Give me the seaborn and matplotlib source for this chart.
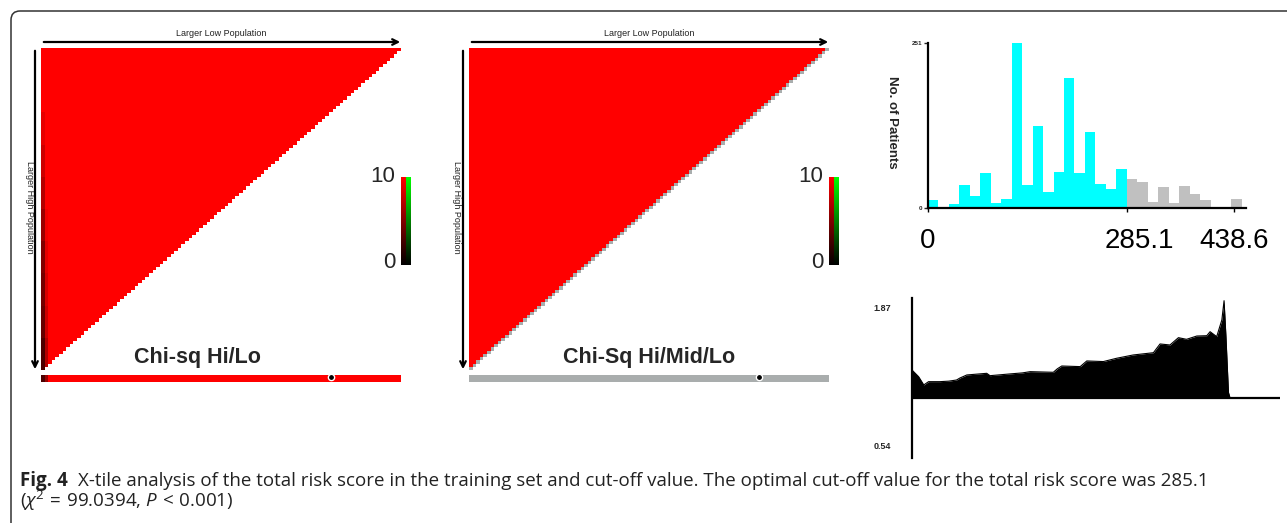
import numpy as np
import pandas as pd
import seaborn as sns
import matplotlib
matplotlib.use("Agg")
from matplotlib import pyplot as plt
from matplotlib.colors import LinearSegmentedColormap, ListedColormap
from matplotlib.patches import FancyBboxPatch, FancyArrowPatch
from matplotlib.transforms import ScaledTranslation

import warnings
warnings.filterwarnings("ignore")

# ---- data ----
n_cells = 100                      # X-tile grid size
chi_sq_cap = 10                    # triangle is saturated (>= 10)
hilo_first_col = [10, 10, 9, 8, 7, 6, 5, 4.5, 4, 3]     # per 10-row block, top -> bottom
hilo_second_col = [10, 10, 10, 10, 10, 9.5, 9, 8.5, 8, 7]
hilo_strip_head = [3, 6]
cut_cell = 80                      # optimal cut-point marker on the strip

bin_width = 285.1 / 19
counts_low = [13, 0, 7, 35, 19, 53, 8, 14, 251, 35, 124, 24, 55, 197, 54, 115, 37, 29, 60]
counts_high = [44, 40, 9, 33, 8, 34, 22, 12, 0, 0, 14]
score_ticks = [0, 285.1, 438.6]
count_ticks = [0, 251]

rr_x = [0, 1.8, 3.2, 4.5, 7.6, 10, 12.1, 13, 14.9, 20.3, 21.2, 26.6, 30, 32.1, 38.4, 39.5,
        40.7, 45.7, 47.5, 52, 55.6, 60.1, 65.6, 67.4, 70.1, 72.4, 74.6, 77.4, 80.1, 81,
        82.8, 84.2, 84.8, 85.3, 86.0, 86.4]
rr_y = [1.268, 1.203, 1.123, 1.155, 1.155, 1.160, 1.171, 1.19, 1.22, 1.236, 1.213, 1.23,
        1.24, 1.252, 1.246, 1.28, 1.307, 1.301, 1.356, 1.35, 1.382, 1.414, 1.436, 1.521,
        1.511, 1.582, 1.566, 1.598, 1.601, 1.64, 1.592, 1.754, 1.941, 1.6, 1.05, 1.0]
rr_ticks = [0.54, 1.87]

# ---- styling ----
sns.set_style("white")
sans = ['Liberation Sans', 'DejaVu Sans']
plt.rcParams['font.family'] = sans
plt.rcParams['mathtext.fontset'] = 'custom'
plt.rcParams['mathtext.rm'] = 'Open Sans'
plt.rcParams['mathtext.it'] = 'Open Sans:italic'

W, H = 1287, 523
fig = plt.figure(figsize=(W / 100, H / 100), dpi=100)


def px_axes(x0, y0, x1, y1):
    return fig.add_axes([x0 / W, 1 - y1 / H, (x1 - x0) / W, (y1 - y0) / H])


def px_text(x, y, s, **kw):
    return fig.text(x / W, 1 - y / H, s, **kw)


red_cmap = LinearSegmentedColormap.from_list('kr', ['#000000', '#ff0000'])
green_cmap = LinearSegmentedColormap.from_list('kg', ['#000000', '#00ff00'])
gray_cmap = ListedColormap(['#a9adad'])

rows, cols = np.indices((n_cells, n_cells))

# ---- Hi/Lo triangle ----
hilo = np.full((n_cells, n_cells), float(chi_sq_cap))
hilo[:, 0] = np.repeat(hilo_first_col, n_cells // len(hilo_first_col))
hilo[:, 1] = np.repeat(hilo_second_col, n_cells // len(hilo_second_col))

hilo_strip = np.full((1, n_cells), float(chi_sq_cap))
hilo_strip[0, :len(hilo_strip_head)] = hilo_strip_head

mid_strip = np.zeros((1, n_cells))
mid = np.full((n_cells, n_cells), float(chi_sq_cap))


def draw_panel(x0, title, title_dx, tri, tri_mask, strip, strip_cmap, diag=None):
    ax = px_axes(x0, 48, x0 + 360, 370)
    sns.heatmap(tri, mask=tri_mask, cmap=red_cmap, vmin=0, vmax=10, cbar=False,
                xticklabels=False, yticklabels=False, ax=ax)
    if diag is not None:
        sns.heatmap(np.zeros_like(tri), mask=~diag, cmap=gray_cmap, cbar=False,
                    xticklabels=False, yticklabels=False, ax=ax)
    ax.set_xlim(0, n_cells)
    ax.set_ylim(n_cells, 0)

    sax = px_axes(x0, 375, x0 + 360, 382)
    sns.heatmap(strip, cmap=strip_cmap, vmin=0, vmax=10, cbar=False,
                xticklabels=False, yticklabels=False, ax=sax)
    sax.plot(cut_cell + 0.5, 0.25, 'o', ms=4.5, mfc='black', mec='white', mew=1.0,
             clip_on=False, zorder=5)

    # colour key
    cax = px_axes(x0 + 360, 177, x0 + 369, 265)
    grad = np.linspace(0, 10, 256)[:, None]
    cax.imshow(grad, cmap=red_cmap, extent=[0, 0.5, 0, 10], aspect='auto', origin='lower')
    cax.imshow(grad, cmap=green_cmap, extent=[0.5, 1, 0, 10], aspect='auto', origin='lower')
    cax.set_xlim(0, 1)
    cax.set_ylim(0, 10)
    cax.set_axis_off()
    px_text(x0 + 354, 177, '10', ha='right', va='center', fontsize=16)
    px_text(x0 + 354, 263, '0', ha='right', va='center', fontsize=16)

    # arrows and axis captions
    fig.add_artist(FancyArrowPatch(
        (x0 / W, 1 - 42 / H), ((x0 + 362) / W, 1 - 42 / H), transform=fig.transFigure,
        arrowstyle='->', mutation_scale=10, lw=1.6, color='black'))
    fig.add_artist(FancyArrowPatch(
        ((x0 - 6) / W, 1 - 48 / H), ((x0 - 6) / W, 1 - 372 / H), transform=fig.transFigure,
        arrowstyle='->', mutation_scale=10, lw=1.6, color='black'))
    px_text(x0 + 180, 34, 'Larger Low Population', ha='center', va='center', fontsize=6.5,
            color='#222222')
    px_text(x0 - 12, 207, 'Larger High Population', ha='center', va='center',
            fontsize=6.5, rotation=-90, color='#222222')
    px_text(x0 + title_dx, 358, title, ha='center', va='center', fontsize=15.5,
            fontweight='bold')


draw_panel(41, 'Chi-sq Hi/Lo', 156, hilo, rows + cols > n_cells - 1, hilo_strip, red_cmap)
draw_panel(469, 'Chi-Sq Hi/Mid/Lo', 180, mid, rows + cols >= n_cells - 1, mid_strip,
           gray_cmap, diag=(rows + cols == n_cells - 1))

# ---- histogram of total risk score ----
counts = counts_low + counts_high
centers = (np.arange(len(counts)) + 0.5) * bin_width
hist_df = pd.DataFrame({
    'score': centers,
    'n': counts,
    'group': ['low'] * len(counts_low) + ['high'] * len(counts_high),
})
edges = list(np.arange(len(counts) + 1) * bin_width)

hax = px_axes(928, 42.7, 1246, 208.3)
sns.histplot(data=hist_df, x='score', weights='n', hue='group', bins=edges,
             palette={'low': '#00ffff', 'high': '#c0c0c0'}, alpha=1, linewidth=0,
             legend=False, ax=hax)
hax.set_xlim(0, 456)
hax.set_ylim(0, 251)
sns.despine(ax=hax)
for s in ('left', 'bottom'):
    hax.spines[s].set_linewidth(1.6)
    hax.spines[s].set_color('black')
hax.set_xticks(score_ticks)
hax.set_xticklabels(['0', '285.1', '438.6'], fontsize=20)
hax.tick_params(axis='x', length=3, width=1, pad=11, bottom=True, colors='black')
# the cut-off label sits a little right of its tick in the original
lbl = hax.get_xticklabels()[1]
lbl.set_transform(lbl.get_transform() + ScaledTranslation(0.13, 0, fig.dpi_scale_trans))
hax.set_yticks(count_ticks)
hax.set_yticklabels(['0', '251'], fontsize=4.5, fontweight='bold')
hax.tick_params(axis='y', length=3, width=1, pad=1, left=True)
hax.set_xlabel('')
hax.set_ylabel('')
px_text(892, 122, 'No. of Patients', ha='center', va='center', fontsize=9.5,
        fontweight='bold', rotation=-90)

# ---- relative risk profile ----
rax = px_axes(912, 298, 1280, 458)
sns.lineplot(x=rr_x, y=rr_y, color='black', lw=0.8, ax=rax)
rax.fill_between(rr_x, 1.0, rr_y, color='black', lw=0)
rax.axhline(1.0, color='black', lw=1.6)
rax.set_xlim(0, 100)
rax.set_ylim(0.414, 1.967)
sns.despine(ax=rax, bottom=True)
rax.spines['left'].set_linewidth(1.6)
rax.spines['left'].set_color('black')
rax.set_xticks([])
rax.set_yticks(rr_ticks)
rax.set_yticklabels(['0.54', '1.87'], fontsize=6.5, fontweight='bold')
rax.tick_params(axis='y', length=0, pad=15)

# ---- outer frame and caption ----
frame = FancyBboxPatch((0.11, -1.0), 14.0, 6.12, boxstyle='round,pad=0,rounding_size=0.09',
                       transform=fig.dpi_scale_trans, fill=False, lw=1.1, ec='#333333')
fig.patches.append(frame)

cap_font = ['Open Sans', 'DejaVu Sans']
cap_size = 13.5
fig_lbl = px_text(20, 486, 'Fig. 4', fontsize=cap_size, fontweight='bold', va='baseline',
                  family=cap_font, color='#222222')
renderer = fig.canvas.get_renderer()
bb = fig_lbl.get_window_extent(renderer)
px_text(bb.x1 + 10, 486, 'X-tile analysis of the total risk score in the training set and '
        'cut-off value. The optimal cut-off value for the total risk score was 285.1',
        fontsize=cap_size, va='baseline', family=cap_font, color='#222222')
px_text(20, 507, r'($\chi^{2}\,{=}\,$99.0394, $P\,{<}\,$0.001)', fontsize=cap_size,
        va='baseline', family=cap_font, color='#222222')

fig.savefig('out.png', dpi=100)
